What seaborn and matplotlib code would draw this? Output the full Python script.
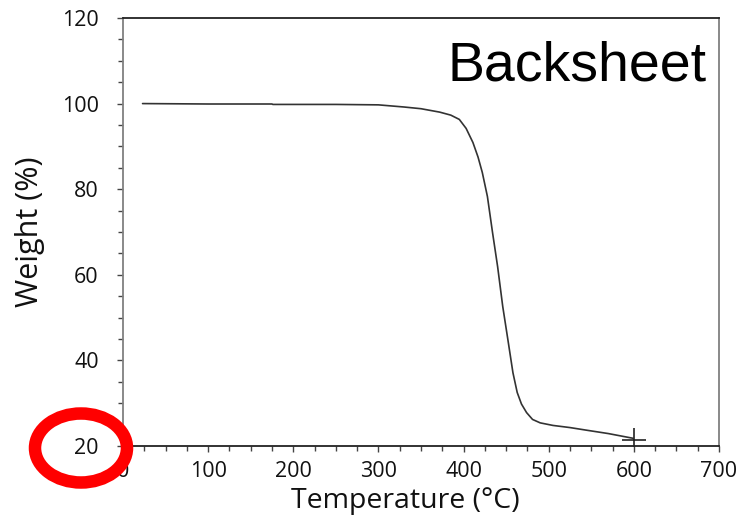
import matplotlib
matplotlib.use("Agg")
import matplotlib.pyplot as plt
from matplotlib.patches import Ellipse
from matplotlib.ticker import MultipleLocator
import seaborn as sns
import pandas as pd

temperature = [23, 100, 175, 176, 250, 300, 330, 350, 372, 385, 395, 403, 411, 417, 422, 428,
               434, 440, 446, 452, 458, 463, 468, 474, 481, 490, 505, 525, 544, 570, 599]
weight = [100.0, 99.9, 99.9, 99.8, 99.8, 99.7, 99.2, 98.8, 98.0, 97.3, 96.3, 94.2, 90.9, 87.5,
          83.9, 78.3, 69.9, 61.9, 52.6, 44.9, 37.1, 32.5, 29.8, 27.8, 26.2, 25.4, 24.8, 24.3,
          23.7, 22.9, 21.8]
end_point_t = [600]
end_point_w = [21.5]

x_ticks = [0, 100, 200, 300, 400, 500, 600, 700]
y_ticks = [20, 40, 60, 80, 100, 120]

sns.set_theme(style="white")
plt.rcParams['font.family'] = ['Open Sans', 'DejaVu Sans']

fig = plt.figure(figsize=(7.44, 5.21), dpi=100)
ax = fig.add_axes([0.1653, 0.144, 0.8011, 0.8215])

df = pd.DataFrame({"T": temperature, "W": weight})
sns.lineplot(data=df, x="T", y="W", ax=ax, sort=False, estimator=None,
             color="#333333", linewidth=1.2)
ax.plot(end_point_t, end_point_w, marker="+", markersize=17, markeredgewidth=1.2,
        color="#222222", linestyle="none")

ax.set_xlim(0, 700)
ax.set_ylim(20, 120)
ax.set_xticks(x_ticks)
ax.set_yticks(y_ticks)
ax.set_xticklabels([str(v) for v in x_ticks])
ax.set_yticklabels([str(v) for v in y_ticks])
ax.xaxis.set_minor_locator(MultipleLocator(25))
ax.yaxis.set_minor_locator(MultipleLocator(5))
ax.tick_params(axis="both", which="major", direction="out", length=4.5, width=1.0,
               color="#444444", labelsize=15.5, labelcolor="#111111", pad=6,
               bottom=True, left=True)
ax.tick_params(axis="both", which="minor", direction="out", length=3.5, width=1.0,
               color="#444444", bottom=True, left=True)
ax.tick_params(axis="y", which="major", pad=13)

for side in ["left", "right"]:
    ax.spines[side].set_color("#808080")
    ax.spines[side].set_linewidth(1.3)
for side in ["top", "bottom"]:
    ax.spines[side].set_color("#222222")
    ax.spines[side].set_linewidth(1.3)

ax.set_xlabel("Temperature (°C)", fontsize=20.5, color="#111111")
ax.xaxis.set_label_coords(0.473, -0.145, transform=ax.transAxes)
ax.xaxis.label.set_va("baseline")
ax.set_ylabel("Weight (%)", fontsize=22, color="#111111")
ax.yaxis.set_label_coords(-0.131, 0.5, transform=ax.transAxes)

ax.text(0.98, 0.855, "Backsheet", transform=ax.transAxes, ha="right", va="baseline",
        fontsize=40, family="Liberation Sans", color="black")

ell = Ellipse((81 / 744, 1 - 448 / 521), 92 / 744, 69 / 521, transform=fig.transFigure,
              fill=False, edgecolor="#ff0000", linewidth=9, zorder=10)
fig.patches.append(ell)

fig.savefig("out.png", dpi=100)
